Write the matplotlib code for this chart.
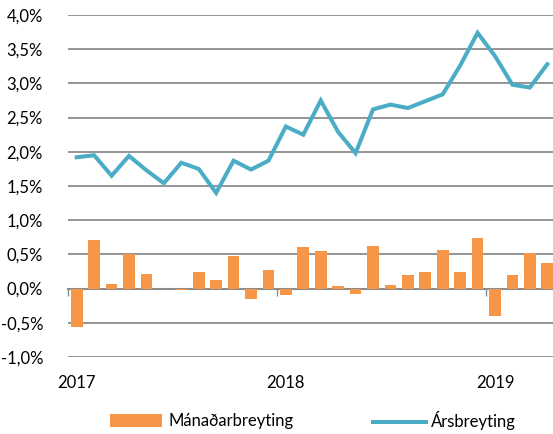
import numpy as np
import matplotlib as mpl
mpl.use("Agg")
import matplotlib.pyplot as plt
import matplotlib.transforms as mtransforms
from matplotlib.ticker import FuncFormatter, FixedLocator

# monthly data, Jan 2017 - Apr 2019 (%)
months = np.arange(28)
year_labels = ["2017", "2018", "2019"]
year_start = [0, 12, 24]
manadar = [-0.56, 0.71, 0.07, 0.50, 0.21, 0.0, -0.02, 0.25, 0.13, 0.47, -0.15, 0.27,
           -0.09, 0.61, 0.55, 0.04, -0.08, 0.62, 0.05, 0.20, 0.24, 0.57, 0.24, 0.74,
           -0.40, 0.20, 0.52, 0.37]
ars = [1.92, 1.95, 1.65, 1.94, 1.73, 1.54, 1.84, 1.75, 1.40, 1.87, 1.74, 1.87,
       2.37, 2.25, 2.75, 2.29, 1.98, 2.62, 2.69, 2.64, 2.74, 2.84, 3.26, 3.74,
       3.40, 2.98, 2.94, 3.28]

mpl.rcParams['font.family'] = ['Lato', 'DejaVu Sans']
mpl.rcParams['font.size'] = 11.5

fig = plt.figure(figsize=(5.53, 4.34), dpi=100)
ax = fig.add_axes([68/553, 1-357/434, 488/553, 342/434])

bars = ax.bar(months, manadar, width=0.67, color='#F79646', zorder=2)
line, = ax.plot(months, ars, color='#4BACC6', lw=2.9, zorder=3,
                solid_joinstyle='miter')

ax.set_xlim(-0.5, 27.5)
ax.set_ylim(-1.0, 4.0)
ax.set_yticks(np.arange(-1.0, 4.01, 0.5))
ax.yaxis.set_major_formatter(FuncFormatter(lambda v, p: ('%.1f%%' % v).replace('.', ',')))
ax.yaxis.grid(True, color='#8c8c8c', lw=1.3, zorder=0)
ax.set_axisbelow(True)
ax.tick_params(axis='y', length=0, pad=18, labelsize=12)

for s in ['top', 'right', 'left']:
    ax.spines[s].set_visible(False)
ax.spines['bottom'].set_position(('data', 0))
ax.spines['bottom'].set_color('#8c8c8c')
ax.spines['bottom'].set_linewidth(1.5)
ax.spines['bottom'].set_zorder(1)
ax.xaxis.set_major_locator(FixedLocator([y - 0.5 for y in year_start]))
ax.tick_params(axis='x', length=5, width=1, color='#8c8c8c', direction='out', labelbottom=False)

trans = mtransforms.blended_transform_factory(ax.transData, ax.transAxes)
for xs, lab in zip(year_start, year_labels):
    ax.text(xs, -0.075, lab, transform=trans, ha='center', va='center', fontsize=12)

leg_y = 1 - 421/434
fig.legend([bars], ['Mánaðarbreyting'], loc='center left', bbox_to_anchor=(103/553, leg_y),
           frameon=False, fontsize=12, handlelength=3.15, handleheight=0.8,
           handletextpad=0.4, borderaxespad=0, borderpad=0.4)
fig.legend([line], ['Ársbreyting'], loc='center left', bbox_to_anchor=(366/553, leg_y),
           frameon=False, fontsize=12, handlelength=3.2, handletextpad=0.3,
           borderaxespad=0, borderpad=0.4)

fig.savefig('out.png', dpi=100)
